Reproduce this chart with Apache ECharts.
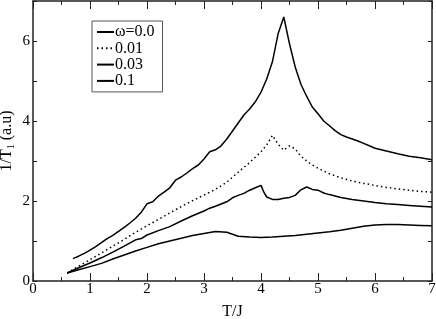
<!DOCTYPE html>
<html>
<head>
<meta charset="utf-8">
<script src="https://cdn.jsdelivr.net/npm/echarts@6/dist/echarts.min.js"></script>
<style>
html,body{margin:0;padding:0;background:#fff;}
#chart{width:436px;height:319px;}
</style>
</head>
<body>
<div id="chart"></div>
<script>
const seriesNames = ['ω=0.0', '0.01', '0.03', '0.1'];

const tW00 = [0.7,0.8,0.9,1.0,1.1,1.2,1.3,1.4,1.5,1.6,1.7,1.8,1.9,2.0,2.1,2.2,2.3,2.4,2.5,2.6,2.7,2.8,2.9,3.0,3.1,3.2,3.3,3.4,3.5,3.6,3.7,3.8,3.9,4.0,4.1,4.2,4.3,4.4,4.5,4.6,4.7,4.8,4.9,5.0,5.1,5.2,5.3,5.4,5.5,5.6,5.7,5.8,5.9,6.0,6.2,6.4,6.6,6.8,7.0];
const rW00 = [0.56,0.62,0.69,0.77,0.86,0.96,1.06,1.14,1.24,1.34,1.45,1.57,1.72,1.93,1.98,2.12,2.22,2.33,2.52,2.60,2.70,2.81,2.90,3.05,3.23,3.28,3.38,3.55,3.75,3.95,4.15,4.30,4.48,4.72,5.05,5.48,6.18,6.60,5.93,5.35,4.92,4.62,4.35,4.18,4.00,3.88,3.76,3.66,3.60,3.55,3.50,3.44,3.38,3.32,3.25,3.18,3.12,3.08,3.03];

const tW01 = [0.6,0.8,1.0,1.2,1.4,1.6,1.8,2.0,2.2,2.4,2.6,2.8,3.0,3.2,3.4,3.6,3.8,4.0,4.1,4.2,4.3,4.4,4.5,4.6,4.7,4.8,4.9,5.0,5.2,5.4,5.6,5.8,6.0,6.2,6.4,6.6,6.8,7.0];
const rW01 = [0.2,0.37,0.53,0.70,0.87,1.04,1.22,1.38,1.54,1.70,1.86,2.01,2.15,2.29,2.47,2.72,2.96,3.23,3.40,3.64,3.42,3.27,3.38,3.30,3.12,3.00,2.90,2.82,2.68,2.58,2.50,2.44,2.39,2.34,2.30,2.27,2.24,2.22];

const tW03 = [0.6,0.8,1.0,1.2,1.4,1.6,1.8,1.9,2.0,2.2,2.4,2.6,2.8,3.0,3.1,3.2,3.4,3.5,3.6,3.7,3.8,3.9,4.0,4.05,4.1,4.2,4.3,4.4,4.5,4.6,4.7,4.8,4.9,5.0,5.1,5.2,5.4,5.6,5.8,6.0,6.2,6.4,6.6,6.8,7.0];
const rW03 = [0.2,0.33,0.45,0.58,0.72,0.87,1.03,1.06,1.15,1.26,1.36,1.50,1.63,1.75,1.82,1.87,1.98,2.08,2.14,2.19,2.27,2.33,2.39,2.22,2.10,2.04,2.04,2.07,2.09,2.14,2.28,2.35,2.29,2.27,2.20,2.16,2.09,2.04,2.00,1.96,1.93,1.91,1.89,1.87,1.85];

const tW10 = [0.6,0.8,1.0,1.2,1.4,1.6,1.8,2.0,2.2,2.4,2.6,2.8,3.0,3.2,3.4,3.5,3.6,3.8,4.0,4.2,4.4,4.6,4.8,5.0,5.2,5.4,5.6,5.8,6.0,6.2,6.4,6.6,6.8,7.0];
const rW10 = [0.2,0.28,0.36,0.44,0.55,0.65,0.75,0.84,0.93,1.00,1.07,1.14,1.19,1.24,1.22,1.17,1.12,1.10,1.09,1.10,1.12,1.14,1.17,1.20,1.23,1.27,1.32,1.37,1.40,1.41,1.41,1.40,1.39,1.38];

const xTicks = [0,1,2,3,4,5,6,7];
const yTickLabels = [0,2,4,6];

function zip(a, b) { return a.map((v, i) => [v, b[i]]); }

const FONT = 'Liberation Serif';
const AX = '#222';

const chart = echarts.init(document.getElementById('chart'), null, {renderer: 'canvas'});

const baseX = {
  type: 'value', min: 0, max: 7, interval: 1,
  axisLine: {show: true, onZero: false, lineStyle: {color: AX, width: 1.5}},
  axisTick: {show: true, inside: true, length: 8, lineStyle: {color: AX, width: 1}},
  minorTick: {show: true, splitNumber: 2, length: 4, lineStyle: {color: AX, width: 1}},
  splitLine: {show: false},
  minorSplitLine: {show: false}
};
const baseY = {
  type: 'value', min: 0, max: 7, interval: 1,
  axisLine: {show: true, onZero: false, lineStyle: {color: AX, width: 1.5}},
  axisTick: {show: true, inside: true, length: 4, lineStyle: {color: AX, width: 1}},
  splitLine: {show: false}
};

const lineStyles = [
  {color: '#000', width: 1.5, type: 'solid'},
  {color: '#000', width: 1.5, type: [1.5, 3]},
  {color: '#000', width: 1.5, type: 'solid'},
  {color: '#000', width: 1.5, type: 'solid'}
];
const datas = [zip(tW00, rW00), zip(tW01, rW01), zip(tW03, rW03), zip(tW10, rW10)];

chart.setOption({
  animation: false,
  backgroundColor: '#fff',
  grid: {left: 33, right: 4, top: 1, bottom: 38, containLabel: false, outerBoundsMode: 'none'},
  legend: {
    show: true,
    orient: 'vertical',
    left: 92, top: 21,
    data: seriesNames,
    itemWidth: 17, itemHeight: 12, itemGap: 0.3,
    padding: [3, 8, 3, 4],
    borderColor: '#555', borderWidth: 1,
    backgroundColor: '#fff',
    itemStyle: {color: 'rgba(0,0,0,0)', borderWidth: 0, opacity: 0},
    textStyle: {fontFamily: FONT, fontSize: 16, lineHeight: 15, color: '#000', padding: [0, 0, 0, -4]},
    selectedMode: false
  },
  xAxis: [
    Object.assign({}, baseX, {
      position: 'bottom',
      name: 'T/J', nameLocation: 'middle', nameGap: 23,
      nameTextStyle: {fontFamily: FONT, fontSize: 16, color: '#000'},
      axisLabel: {show: true, fontFamily: FONT, fontSize: 15, color: '#000', margin: 1,
        formatter: v => xTicks.indexOf(v) >= 0 ? String(v) : ''}
    }),
    Object.assign({}, baseX, {position: 'top', axisLabel: {show: false}})
  ],
  yAxis: [
    Object.assign({}, baseY, {
      position: 'left',
      name: '1/T{sub|1} (a.u)', nameLocation: 'middle', nameGap: 17, nameRotate: 90,
      nameMoveOverlap: false,
      nameTextStyle: {fontFamily: FONT, fontSize: 16, color: '#000',
        rich: {sub: {fontFamily: FONT, fontSize: 10, color: '#000', verticalAlign: 'bottom', padding: [8, 0, 0, 0]}}},
      axisLabel: {show: true, fontFamily: FONT, fontSize: 15, color: '#000', margin: 3,
        formatter: v => yTickLabels.indexOf(v) >= 0 ? String(v) : ''}
    }),
    Object.assign({}, baseY, {position: 'right', axisLabel: {show: false}})
  ],
  series: seriesNames.map((n, i) => ({
    name: n,
    type: 'line',
    xAxisIndex: 0, yAxisIndex: 0,
    data: datas[i],
    symbol: 'none',
    showSymbol: false,
    smooth: false,
    lineStyle: lineStyles[i],
    itemStyle: {color: '#000'},
    z: 3
  }))
});
</script>
</body>
</html>
